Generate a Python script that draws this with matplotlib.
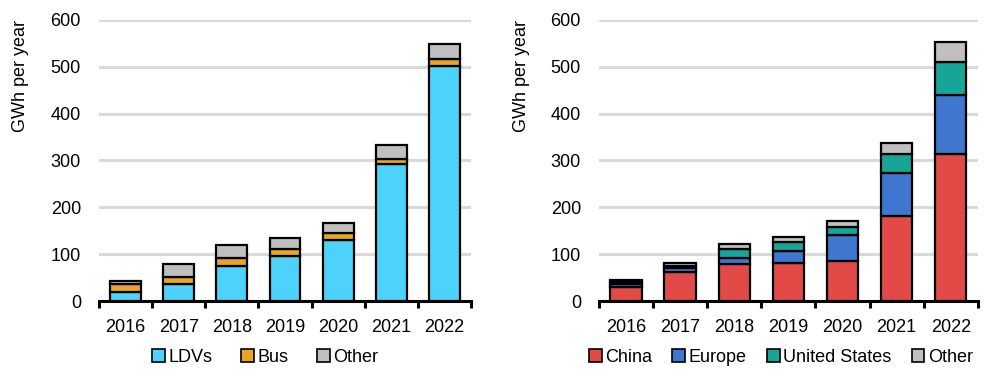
import numpy as np
import matplotlib
matplotlib.use("Agg")
import matplotlib.pyplot as plt
from matplotlib.patches import Patch

years = ["2016", "2017", "2018", "2019", "2020", "2021", "2022"]

# left panel: by vehicle segment (GWh per year)
ldvs = [20, 36, 75, 96, 130, 293, 502]
bus = [16, 15, 17, 16, 15, 10, 15]
other_seg = [7, 29, 28, 23, 22, 31, 32]

# right panel: by region (GWh per year)
china = [29, 61, 78, 82, 85, 182, 313]
europe = [7, 9, 14, 25, 55, 92, 127]
united_states = [5, 5, 20, 20, 19, 40, 71]
other_reg = [4, 7, 9, 9, 11, 23, 41]

SEG_COLORS = ["#4DD2FA", "#E8A52A", "#BFBFBF"]
REG_COLORS = ["#E24A47", "#3F77D0", "#17A597", "#BFBFBF"]

plt.rcParams["font.family"] = ["Liberation Sans", "DejaVu Sans"]
plt.rcParams["font.size"] = 13


def draw_panel(ax, series, colors, labels, legend_x, col_spacing):
    x = np.arange(len(years))
    bottom = np.zeros(len(years))
    for vals, color in zip(series, colors):
        vals = np.array(vals, dtype=float)
        ax.bar(x, vals, bottom=bottom, width=0.58, color=color,
               edgecolor="black", linewidth=1.6, zorder=3)
        bottom += vals

    ax.set_xlim(-0.5, len(years) - 0.5)
    ax.set_ylim(0, 600)
    ax.set_yticks(range(0, 601, 100))
    ax.yaxis.grid(True, color="#d9d9d9", linewidth=2.2, zorder=0)
    ax.set_axisbelow(True)
    for side in ["top", "right", "left"]:
        ax.spines[side].set_visible(False)
    ax.spines["bottom"].set_linewidth(2.2)

    ax.set_xticks(x)
    ax.set_xticklabels(years)
    ax.set_xticks(np.arange(-0.5, len(years)), minor=True)
    ax.tick_params(axis="x", which="major", length=0, pad=13)
    ax.tick_params(axis="x", which="minor", length=5, width=2.2, direction="out")
    ax.tick_params(axis="y", length=0, pad=13)

    handles = [Patch(facecolor=c, edgecolor="black", linewidth=1.2) for c in colors]
    fig.legend(handles, labels, loc="center left",
               bbox_to_anchor=(legend_x / 984, 1 - 357 / 382),
               ncol=len(labels), frameon=False, handlelength=0.7, handleheight=0.7,
               handletextpad=0.2, columnspacing=col_spacing, fontsize=13,
               borderaxespad=0, borderpad=0)


fig = plt.figure(figsize=(9.84, 3.82), dpi=100)
ax1 = fig.add_axes([0.1006, 0.212, 0.378, 0.736])
ax2 = fig.add_axes([0.6087, 0.212, 0.385, 0.736])

draw_panel(ax1, [ldvs, bus, other_seg], SEG_COLORS, ["LDVs", "Bus", "Other"], 152, 1.6)
draw_panel(ax2, [china, europe, united_states, other_reg], REG_COLORS,
           ["China", "Europe", "United States", "Other"], 589, 1.12)

fig.text(21 / 984, 1 - 76 / 382, "GWh per year", rotation=90, ha="center", va="center")
fig.text(521 / 984, 1 - 76 / 382, "GWh per year", rotation=90, ha="center", va="center")

fig.savefig("out.png", dpi=100, facecolor="white")
